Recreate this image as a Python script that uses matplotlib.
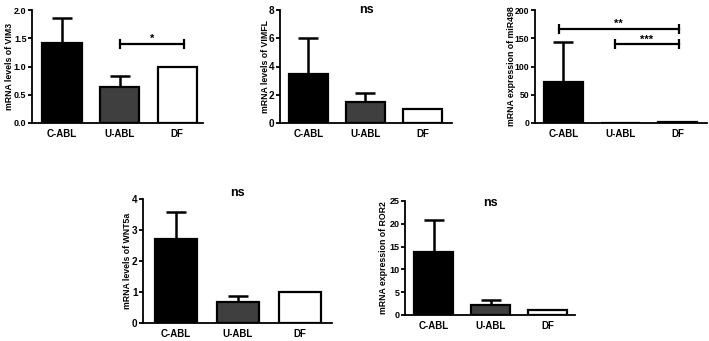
import matplotlib
matplotlib.use("Agg")
import matplotlib.pyplot as plt

plt.rcParams['font.family'] = ['Liberation Sans', 'DejaVu Sans']
plt.rcParams['font.weight'] = 'bold'

groups = ["C-ABL", "U-ABL", "DF"]
colors = ["#000000", "#3f3f3f", "#ffffff"]

vim3_mean = [1.41, 0.64, 1.0]
vim3_err = [0.44, 0.19, 0.0]
vimfl_mean = [3.45, 1.52, 1.0]
vimfl_err = [2.6, 0.6, 0.0]
mir498_mean = [72, 0.3, 1.2]
mir498_err = [71, 0.0, 0.0]
wnt5a_mean = [2.7, 0.67, 1.0]
wnt5a_err = [0.87, 0.19, 0.0]
ror2_mean = [13.9, 2.3, 1.0]
ror2_err = [7.0, 0.9, 0.0]

W, H = 709, 341
fig = plt.figure(figsize=(W / 100, H / 100), dpi=100)


def make_ax(left, right, top, bottom):
    return fig.add_axes([left / W, 1 - bottom / H, (right - left) / W, (bottom - top) / H])


def draw(ax, means, errs, ylim, yticks, yticklabels, ylabel, xlim, label_x, tick_fs=7.2,
         title=None, title_y=1.0):
    x = list(range(len(groups)))
    ax.bar(x, means, width=0.68, color=colors, edgecolor="black", linewidth=1.6, zorder=2)
    for xi, m, e in zip(x, means, errs):
        if e > 0:
            ax.errorbar([xi], [m], yerr=[[0], [e]], fmt="none", ecolor="black",
                        elinewidth=1.8, capsize=7, capthick=1.8, zorder=1)
    ax.set_xlim(*xlim)
    ax.set_ylim(*ylim)
    ax.set_yticks(yticks)
    ax.set_yticklabels(yticklabels, fontsize=tick_fs, fontweight="bold")
    ax.set_xticks(x)
    ax.set_xticklabels(groups, fontsize=7, fontweight="bold")
    ax.tick_params(axis="x", length=0, pad=4)
    ax.tick_params(axis="y", length=3, width=1.3, pad=1)
    for s in ["top", "right"]:
        ax.spines[s].set_visible(False)
    for s in ["left", "bottom"]:
        ax.spines[s].set_linewidth(1.3)
    pos = ax.get_position()
    fig.text(label_x / W, pos.y0 + pos.height / 2, ylabel, rotation=90, ha="center",
             va="center", fontsize=6.3, fontweight="bold")
    if title:
        ax.text(0.5, title_y, title, transform=ax.transAxes, ha="center", va="center",
                fontsize=9, fontweight="bold")


def sig(ax, x0, x1, y, text):
    ax.plot([x0, x1], [y, y], color="black", lw=1.6, marker="|", markersize=7,
            markeredgewidth=1.6, clip_on=False)
    ax.text((x0 + x1) / 2, y, text, ha="center", va="bottom", fontsize=8, fontweight="bold")


ax1 = make_ax(32, 203, 10, 123)
draw(ax1, vim3_mean, vim3_err, (0, 2.0), [0, 0.5, 1.0, 1.5, 2.0],
     ["0.0", "0.5", "1.0", "1.5", "2.0"], "mRNA levels of VIM3", (-0.52, 2.45), 10,
     tick_fs=6.5)
sig(ax1, 1.0, 2.12, 1.40, "*")

ax2 = make_ax(280, 452, 10, 123)
draw(ax2, vimfl_mean, vimfl_err, (0, 8), [0, 2, 4, 6, 8], ["0", "2", "4", "6", "8"],
     "mRNA levels of VIMFL", (-0.5, 2.52), 265, title="ns", title_y=1.0)

ax3 = make_ax(535, 707, 10, 123)
draw(ax3, mir498_mean, mir498_err, (0, 200), [0, 50, 100, 150, 200],
     ["0", "50", "100", "150", "200"], "mRNA expression of miR498", (-0.5, 2.52), 511,
     tick_fs=6.2)
sig(ax3, -0.08, 2.02, 166, "**")
sig(ax3, 0.9, 2.03, 139, "***")

ax4 = make_ax(143, 332, 199, 323)
draw(ax4, wnt5a_mean, wnt5a_err, (0, 4), [0, 1, 2, 3, 4], ["0", "1", "2", "3", "4"],
     "mRNA levels of WNT5a", (-0.53, 2.52), 127, title="ns", title_y=1.05)

ax5 = make_ax(405, 575, 201, 315)
draw(ax5, ror2_mean, ror2_err, (0, 25), [0, 5, 10, 15, 20, 25],
     ["0", "5", "10", "15", "20", "25"], "mRNA expression of ROR2", (-0.5, 2.48), 383,
     tick_fs=6.5, title="ns", title_y=0.98)

fig.savefig("out.png", dpi=100, facecolor="white")
